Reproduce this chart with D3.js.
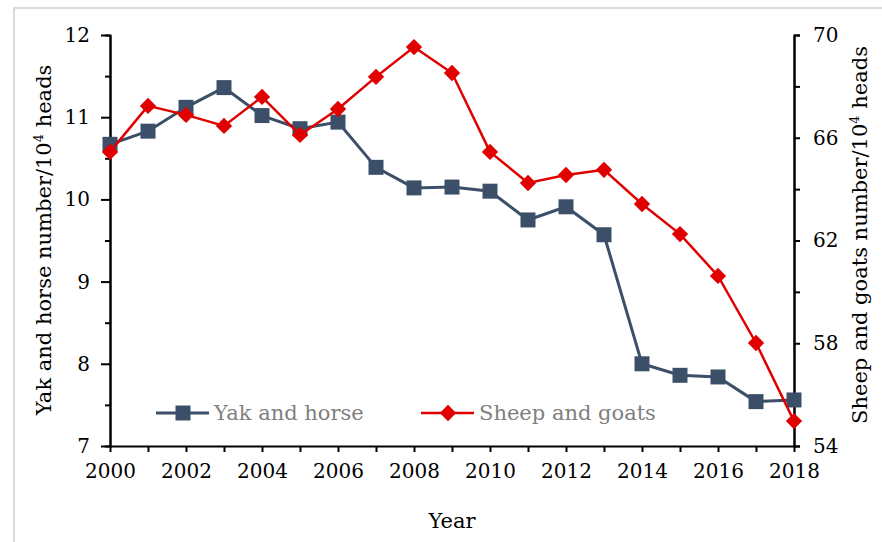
<!DOCTYPE html>
<html>
<head>
<meta charset="utf-8">
<script src="https://cdn.jsdelivr.net/npm/d3@7"></script>
<style>
  body { margin: 0; background: #fff; }
  svg { display: block; }
  svg text { font-family: "DejaVu Serif", "Liberation Serif", serif; }
</style>
</head>
<body>
<svg></svg>
<script>
var years = [2000, 2001, 2002, 2003, 2004, 2005, 2006, 2007, 2008, 2009,
             2010, 2011, 2012, 2013, 2014, 2015, 2016, 2017, 2018];
var yakHorse = [10.67, 10.83, 11.12, 11.36, 11.02, 10.86, 10.94, 10.39, 10.14, 10.15,
                10.10, 9.75, 9.91, 9.57, 8.00, 7.86, 7.84, 7.54, 7.56];
var sheepGoats = [65.45, 67.24, 66.89, 66.46, 67.59, 66.11, 67.12, 68.37, 69.53, 68.52,
                  65.45, 64.24, 64.55, 64.75, 63.42, 62.25, 60.62, 58.01, 54.97];
var xTickLabels = [2000, 2002, 2004, 2006, 2008, 2010, 2012, 2014, 2016, 2018];
var leftTicks = [7, 8, 9, 10, 11, 12];
var rightTicks = [54, 58, 62, 66, 70];

var width = 882, height = 542,
    margin = {top: 35, right: 88, bottom: 96, left: 110};
var tickFont = 20, labelFont = 21;

var svg = d3.select("svg")
  .attr("width", width)
  .attr("height", height);

// outer frame
svg.append("rect")
  .attr("x", 14).attr("y", 8)
  .attr("width", width).attr("height", height)
  .attr("fill", "none")
  .attr("stroke", "#d9d9d9")
  .attr("stroke-width", 2);

var x = d3.scaleLinear()
  .domain([2000, 2018])
  .range([margin.left, width - margin.right]);

var yLeft = d3.scaleLinear()
  .domain([7, 12])
  .range([height - margin.bottom, margin.top]);

var yRight = d3.scaleLinear()
  .domain([54, 70])
  .range([height - margin.bottom, margin.top]);

function styleAxis(g) {
  g.attr("font-size", tickFont).attr("font-family", null);
  g.selectAll("path.domain").attr("stroke", "#000").attr("stroke-width", 2);
  g.selectAll(".tick line").attr("stroke", "#000").attr("stroke-width", 2);
  g.selectAll(".tick text").attr("fill", "#000");
}

// x axis: ticks every year, labels on even years
var xAxisG = svg.append("g")
  .attr("transform", "translate(0," + (height - margin.bottom) + ")")
  .call(d3.axisBottom(x).tickValues(years).tickSize(6).tickSizeOuter(0).tickPadding(12)
    .tickFormat(function(d) { return xTickLabels.indexOf(d) >= 0 ? d : ""; }));
styleAxis(xAxisG);

// left axis
var leftMinor = d3.range(7.5, 12, 1);
svg.append("g")
  .attr("transform", "translate(" + margin.left + ",0)")
  .call(d3.axisLeft(yLeft).tickValues(leftMinor).tickSize(5).tickFormat(""))
  .call(styleAxis);
var leftG = svg.append("g")
  .attr("transform", "translate(" + margin.left + ",0)")
  .call(d3.axisLeft(yLeft).tickValues(leftTicks).tickSize(9).tickSizeOuter(0)
    .tickPadding(11).tickFormat(d3.format("d")));
styleAxis(leftG);

// right axis
var rightMinor = [56, 60, 64, 68];
svg.append("g")
  .attr("transform", "translate(" + (width - margin.right) + ",0)")
  .call(d3.axisRight(yRight).tickValues(rightMinor).tickSize(6).tickFormat(""))
  .call(styleAxis);
var rightG = svg.append("g")
  .attr("transform", "translate(" + (width - margin.right) + ",0)")
  .call(d3.axisRight(yRight).tickValues(rightTicks).tickSize(6).tickSizeOuter(0)
    .tickPadding(13).tickFormat(d3.format("d")));
styleAxis(rightG);

// axis titles
function titleWithSup(g, before, after) {
  var t = g.append("text")
    .attr("text-anchor", "middle")
    .attr("font-size", labelFont)
    .attr("fill", "#000");
  t.append("tspan").text(before);
  t.append("tspan").attr("font-size", 13).attr("dy", -8).text("4");
  t.append("tspan").attr("dy", 8).text(after);
  return t;
}

titleWithSup(svg.append("g").attr("transform", "translate(51,240) rotate(-90)"),
  "Yak and horse number/10", " heads");
titleWithSup(svg.append("g").attr("transform", "translate(867,235) rotate(-90)"),
  "Sheep and goats number/10", " heads");

svg.append("text")
  .attr("x", (margin.left + width - margin.right) / 2)
  .attr("y", 528)
  .attr("text-anchor", "middle")
  .attr("font-size", labelFont)
  .text("Year");

// series
var blue = "#3b5068", red = "#e00000";

var yakData = years.map(function(d, i) { return {year: d, value: yakHorse[i]}; });
var sheepData = years.map(function(d, i) { return {year: d, value: sheepGoats[i]}; });

var yakLine = d3.line()
  .x(function(d) { return x(d.year); })
  .y(function(d) { return yLeft(d.value); });
var sheepLine = d3.line()
  .x(function(d) { return x(d.year); })
  .y(function(d) { return yRight(d.value); });

var square = d3.symbol().type(d3.symbolSquare).size(225);
var diamond = d3.symbol().type(d3.symbolDiamond2).size(170);

svg.append("path")
  .datum(yakData)
  .attr("fill", "none")
  .attr("stroke", blue)
  .attr("stroke-width", 3)
  .attr("d", yakLine);

svg.append("g").selectAll("path")
  .data(yakData)
  .enter().append("path")
  .attr("d", square)
  .attr("fill", blue)
  .attr("transform", function(d) { return "translate(" + x(d.year) + "," + yLeft(d.value) + ")"; });

svg.append("path")
  .datum(sheepData)
  .attr("fill", "none")
  .attr("stroke", red)
  .attr("stroke-width", 2.5)
  .attr("d", sheepLine);

svg.append("g").selectAll("path")
  .data(sheepData)
  .enter().append("path")
  .attr("d", diamond)
  .attr("fill", red)
  .attr("transform", function(d) { return "translate(" + x(d.year) + "," + yRight(d.value) + ")"; });

// legend
var legend = [
  {label: "Yak and horse", color: blue, sym: square, x: 156, w: 3},
  {label: "Sheep and goats", color: red, sym: diamond, x: 421, w: 2.5}
];
var lg = svg.append("g").selectAll("g")
  .data(legend)
  .enter().append("g")
  .attr("transform", function(d) { return "translate(" + d.x + ",413)"; });
lg.append("line")
  .attr("x1", 0).attr("x2", 53)
  .attr("stroke", function(d) { return d.color; })
  .attr("stroke-width", function(d) { return d.w; });
lg.append("path")
  .attr("d", function(d) { return d.sym(); })
  .attr("fill", function(d) { return d.color; })
  .attr("transform", "translate(27,0)");
lg.append("text")
  .attr("x", 58)
  .attr("dy", "0.35em")
  .attr("font-size", labelFont)
  .attr("fill", "#808080")
  .text(function(d) { return d.label; });
</script>
</body>
</html>
